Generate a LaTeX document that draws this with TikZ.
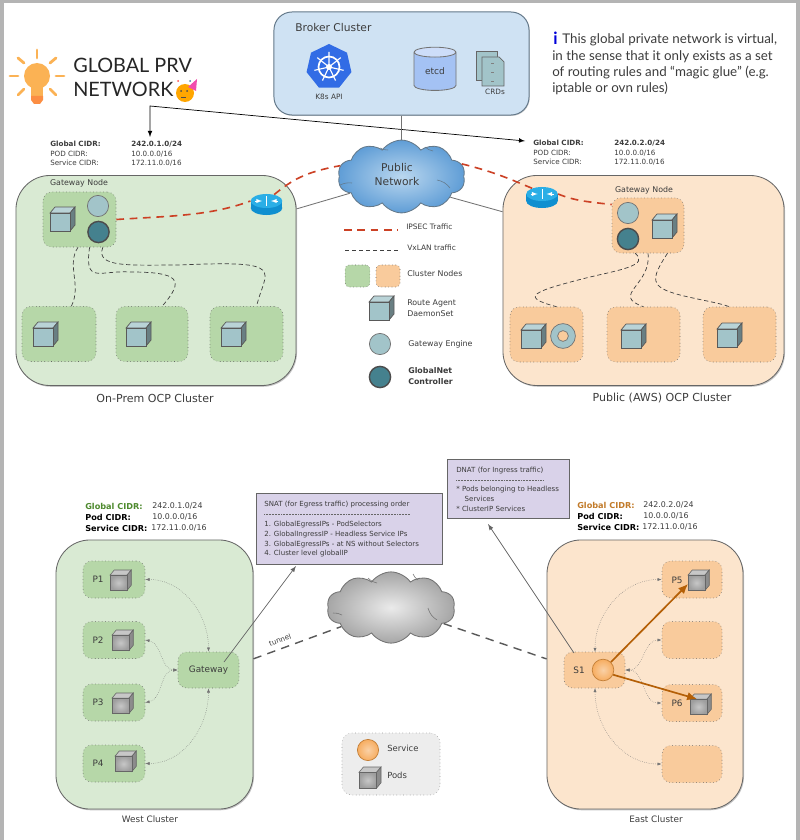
\documentclass[tikz,border=0pt]{standalone}
\usepackage{fontspec}
\setmainfont{DejaVu Sans}
\newfontfamily\titlefont{Lato}
\usetikzlibrary{shapes.geometric,shapes.symbols,shadows,arrows.meta}

\definecolor{framegray}{HTML}{B4B4B4}
\definecolor{inktext}{HTML}{3C3C3C}
\definecolor{brokerblue}{HTML}{CFE2F3}
\definecolor{edgeblue}{HTML}{64798A}
\definecolor{k8sblue}{HTML}{326CE5}
\definecolor{etcdblue}{HTML}{A4C2F4}
\definecolor{clustergreen}{HTML}{D9EAD3}
\definecolor{nodegreen}{HTML}{B6D7A8}
\definecolor{clusterorange}{HTML}{FCE5CD}
\definecolor{nodeorange}{HTML}{F9CB9C}
\definecolor{enginecol}{HTML}{A2C4C9}
\definecolor{controlcol}{HTML}{45818E}
\definecolor{ipsecred}{HTML}{CC4125}
\definecolor{notepurple}{HTML}{D9D2E9}
\definecolor{svcorange}{HTML}{F6B26B}
\definecolor{pathorange}{HTML}{B45F06}
\definecolor{routertop}{HTML}{2AAEE6}
\definecolor{routerside}{HTML}{0F8FD0}
\definecolor{bulbcol}{HTML}{FBB254}
\definecolor{cloudinner}{HTML}{BAD7EF}
\definecolor{cloudouter}{HTML}{5F9DD6}
\definecolor{westgreen}{HTML}{4E8A2E}
\definecolor{eastorange}{HTML}{C27B2A}

\newcommand{\labelfont}{\fontsize{5.6}{7.4}\selectfont}
\newcommand{\trafficfont}{\fontsize{5.3}{7}\selectfont}
\newcommand{\podfont}{\fontsize{6.3}{8}\selectfont}
\newcommand{\cidrfont}{\fontsize{5.1}{6.6}\selectfont}
\newcommand{\boldcidrfont}{\fontsize{5.8}{7}\selectfont\bfseries}
\newcommand{\notefont}{\fontsize{5}{6.9}\selectfont}
\newcommand{\capfont}{\fontsize{7.85}{9}\selectfont}
\newcommand{\infofont}{\titlefont\fontsize{9.5}{11.6}\selectfont}

\tikzset{
	every node/.style={inner sep=0pt, text=inktext},
	lbl/.style={font=\labelfont, anchor=west, align=left},
	cidr/.style={font=\cidrfont, anchor=west, align=left},
	boldcidr/.style={font=\boldcidrfont, anchor=west},
	notetext/.style={font=\notefont, anchor=west, align=left},
	captext/.style={font=\capfont},
	clusterbox/.style={draw=black!60, line width=0.6pt, rounded corners=8.5mm, drop shadow={shadow xshift=0.7pt, shadow yshift=-0.9pt, opacity=0.45}},
	dotbox/.style={draw=black!60, dotted, rounded corners=2.2mm},
	greennode/.style={dotbox, fill=nodegreen},
	orangenode/.style={dotbox, fill=nodeorange},
	engine/.style={circle, draw=black!55, line width=0.5pt, fill=enginecol, minimum size=0.53cm},
	controller/.style={circle, draw=black!70, line width=1pt, fill=controlcol, minimum size=0.53cm},
	routerhead/.style={ellipse, fill=routertop, minimum width=0.79cm, minimum height=0.35cm},
	routerbody/.style={fill=routerside},
	ipsec/.style={draw=ipsecred, line width=1.15pt, dashed, dash pattern=on 5.5pt off 4pt},
	vxlan/.style={draw=black!75, line width=0.5pt, densely dashed},
	wanline/.style={draw=black!55, line width=0.6pt},
	notebox/.style={draw=black!60, fill=notepurple, line width=0.6pt, drop shadow={shadow xshift=0.4pt, shadow yshift=-0.4pt, opacity=0.4}},
	notediv/.style={draw=black!60, line width=0.3pt, dash pattern=on 0.7pt off 0.4pt},
	peerline/.style={{Latex[length=3pt,width=2.2pt]}-{Latex[length=3pt,width=2.2pt]}, draw=black!55, line width=0.35pt, densely dotted},
	svcpath/.style={-{Latex[length=7pt,width=6pt]}, draw=pathorange, line width=1.2pt},
	tunnelline/.style={draw=black!65, line width=1pt, dashed, dash pattern=on 6pt off 4.5pt},
	agentcube/.pic={
		\draw[draw=black!65, line width=0.5pt, fill=enginecol!75!white] (0,6) -- (5,0) -- (25,0) -- (20,6) -- cycle;
		\draw[draw=black!65, line width=0.5pt, fill=enginecol!65!black] (20,6) -- (25,0) -- (25,18) -- (20,24) -- cycle;
		\draw[draw=black!65, line width=0.5pt, fill=enginecol] (0,6) rectangle (20,24);
	},
	podcube/.pic={
		\draw[draw=black!60, line width=0.4pt, fill=black!22] (0,6) -- (5,0) -- (25,0) -- (20,6) -- cycle;
		\draw[draw=black!60, line width=0.4pt, fill=black!45] (20,6) -- (25,0) -- (25,18) -- (20,24) -- cycle;
		\draw[draw=black!60, line width=0.4pt, inner color=black!22, outer color=black!38, shade] (0,6) rectangle (20,24);
	},
}

\begin{document}
\begin{tikzpicture}[x=0.025cm, y=-0.025cm, >=latex]
	\useasboundingbox (0,0) rectangle (800,840);
	\fill[framegray] (0,0) rectangle (800,840);
	\fill[white] (4,3) rectangle (796,840);

	%% title
	\fill[bulbcol] (37,76) circle (13);
	\fill[bulbcol] (31,82) rectangle (43,96);
	\fill[bulbcol!80!red] (31,96) -- (43,96) -- (43,100) -- (40,104) -- (34,104) -- (31,100) -- cycle;
	\draw[bulbcol, line width=2pt, line cap=round] (37,50) -- (37,58);
	\draw[bulbcol, line width=2pt, line cap=round] (18,58) -- (24,63);
	\draw[bulbcol, line width=2pt, line cap=round] (56,58) -- (50,63);
	\draw[bulbcol, line width=2pt, line cap=round] (10,76) -- (18,76);
	\draw[bulbcol, line width=2pt, line cap=round] (56,76) -- (64,76);
	\draw[bulbcol, line width=2pt, line cap=round] (18,95) -- (24,89);
	\draw[bulbcol, line width=2pt, line cap=round] (56,95) -- (50,89);
	\node (titleone) [anchor=west, font=\titlefont\fontsize{14.1}{18}\selectfont, text=black!85] at (73,65) {GLOBAL PRV};
	\node (titletwo) [anchor=west, font=\titlefont\fontsize{14.1}{18}\selectfont, text=black!85] at (73,89) {NETWORK};
	\fill[orange!70!yellow] (185,93) circle (9);
	\fill[magenta!70] (188,87) -- (197,79) -- (196,91) -- cycle;
	\fill[cyan!60!black] (190,81) circle (1);
	\fill[red!70] (178,81) circle (1);
	\fill[black!70] (181,91) circle (1);
	\fill[black!70] (187,91) circle (1);
	\draw[black!70, line width=0.5pt] (181,97) -- (186,97);

	%% broker
	\node (broker) [draw=edgeblue, fill=brokerblue, line width=0.7pt, rounded corners=4.5mm, minimum width=6.375cm, minimum height=2.575cm, drop shadow={shadow xshift=0.5pt, shadow yshift=-0.6pt, opacity=0.4}] at (401.5,63.5) {};
	\node (brokertext) [anchor=west, font=\fontsize{7.6}{9}\selectfont] at (295,28) {Broker Cluster};
	\node (k8s) [regular polygon, regular polygon sides=7, fill=k8sblue, minimum size=1.15cm] at (329,67) {};
	\draw[white, line width=1.2pt] (k8s.center) circle (10.5);
	\draw[white, line width=0.8pt] (k8s.center) -- ++(-90:15) (k8s.center) -- ++(-38.6:15) (k8s.center) -- ++(12.9:15) (k8s.center) -- ++(64.3:15) (k8s.center) -- ++(115.7:15) (k8s.center) -- ++(167.1:15) (k8s.center) -- ++(218.6:15);
	\fill[white] (k8s.center) circle (3);
	\node (k8stext) [font=\fontsize{5.2}{6}\selectfont] at (329,97) {K8s API};
	\node (etcd) [cylinder, shape border rotate=90, aspect=0.5, draw=black!55, line width=0.6pt, cylinder uses custom fill, cylinder body fill=etcdblue, cylinder end fill=etcdblue!55!white, minimum width=1.05cm, minimum height=1.08cm, font=\fontsize{6.4}{8}\selectfont] at (435,71.5) {etcd};
	\draw[black!60, line width=0.5pt, fill=enginecol] (476,51) rectangle (497,80);
	\draw[black!60, line width=0.5pt, fill=enginecol] (482,57) -- (499,57) -- (504,62) -- (504,86) -- (482,86) -- cycle;
	\fill[black!50] (491,63) rectangle (494,63.6);
	\fill[black!50] (491,72) rectangle (494,72.6);
	\fill[black!50] (491,81) rectangle (494,81.6);
	\node (crdtext) [font=\fontsize{5.2}{6}\selectfont] at (495,92) {CRDs};

	%% note
	\node (infoi) [anchor=west, font=\titlefont\bfseries\fontsize{12}{14}\selectfont, text=blue!85!black] at (553,38) {i};
	\node (infoone) [anchor=west, font=\infofont] at (562,40) {This global private network is virtual,};
	\node (infotwo) [anchor=north west, align=left, font=\infofont] at (552,50) {in the sense that it only exists as a set\\of routing rules and “magic glue” (e.g.\\iptable or ovn rules)};

	%% top CIDR
	\node (wtopa) [cidr, font=\cidrfont\bfseries] at (50,144) {Global CIDR:};
	\node (wtopb) [cidr, font=\cidrfont\bfseries] at (131,144) {242.0.1.0/24};
	\node (wtopc) [cidr] at (50,154) {POD CIDR:};
	\node (wtopd) [cidr] at (131,154) {10.0.0.0/16};
	\node (wtope) [cidr] at (50,163) {Service CIDR:};
	\node (wtopf) [cidr] at (131,163) {172.11.0.0/16};
	\node (etopa) [cidr, font=\cidrfont\bfseries] at (533,143) {Global CIDR:};
	\node (etopb) [cidr, font=\cidrfont\bfseries] at (614,143) {242.0.2.0/24};
	\node (etopc) [cidr] at (533,153) {POD CIDR:};
	\node (etopd) [cidr] at (614,153) {10.0.0.0/16};
	\node (etope) [cidr] at (533,162) {Service CIDR:};
	\node (etopf) [cidr] at (614,162) {172.11.0.0/16};
	\coordinate (westtip) at (150,137);
	\coordinate (tipcorner) at (150,106);
	\coordinate (easttip) at (525,141);
	\draw[<->, line width=0.5pt] (westtip) -- (tipcorner) -- (easttip);

	%% on-prem cluster
	\node (onprem) [clusterbox, fill=clustergreen, minimum width=7cm, minimum height=5.25cm] at (156,280.5) {};
	\node (gwleft) [greennode, minimum width=1.825cm, minimum height=1.375cm] at (79.5,219.5) {};
	\node (gwlefttext) [font=\labelfont] at (79,183) {Gateway Node};
	\pic at (50,207) {agentcube};
	\node (gwleftengine) [engine] at (98,206) {};
	\node (gwleftctrl) [controller] at (98.5,232) {};
	\node (nodeone) [greennode, minimum width=1.85cm, minimum height=1.375cm] at (59,334) {};
	\node (nodetwo) [greennode, minimum width=1.8cm, minimum height=1.375cm] at (152,334) {};
	\node (nodethree) [greennode, minimum width=1.825cm, minimum height=1.375cm] at (246.5,334) {};
	\pic at (33,322) {agentcube};
	\pic at (126,322) {agentcube};
	\pic at (221,322) {agentcube};
	\fill[routerbody] (266.5,208) ellipse (15.8 and 7);
	\fill[routerbody] (250.7,201) rectangle (282.3,208);
	\node (routerleft) [routerhead] at (266.5,201) {};
	\draw[->, white, line width=0.4pt] (255,201) -- (262,201);
	\draw[->, white, line width=0.4pt] (278,201) -- (271,201);
	\draw[white, line width=0.4pt] (266.5,196) -- (266.5,206);
	\node (capleft) [captext] at (155,398) {On-Prem OCP Cluster};

	%% public cluster
	\node (public) [clusterbox, fill=clusterorange, minimum width=7.025cm, minimum height=5.25cm] at (643.5,280.5) {};
	\node (gwright) [orangenode, minimum width=1.8cm, minimum height=1.375cm] at (648,225.5) {};
	\node (gwrighttext) [font=\labelfont] at (644,190) {Gateway Node};
	\pic at (652,214) {agentcube};
	\node (gwrightengine) [engine] at (628,213) {};
	\node (gwrightctrl) [controller] at (628,239) {};
	\node (nodefour) [orangenode, minimum width=1.825cm, minimum height=1.375cm] at (546.5,334.5) {};
	\node (nodefive) [orangenode, minimum width=1.825cm, minimum height=1.375cm] at (643.5,334.5) {};
	\node (nodesix) [orangenode, minimum width=1.825cm, minimum height=1.375cm] at (739.5,334.5) {};
	\pic at (521,324) {agentcube};
	\pic at (621,324) {agentcube};
	\pic at (717,323) {agentcube};
	\node (ring) [circle, draw=black!55, line width=0.5pt, fill=enginecol, minimum size=0.62cm] at (563,336) {};
	\node (ringhole) [circle, draw=black!55, line width=0.5pt, fill=nodeorange, minimum size=0.27cm] at (563,336) {};
	\fill[routerbody] (542,201) ellipse (15.8 and 7);
	\fill[routerbody] (526.2,194) rectangle (557.8,201);
	\node (routerright) [routerhead] at (542,194) {};
	\draw[->, white, line width=0.4pt] (530.5,194) -- (537.5,194);
	\draw[->, white, line width=0.4pt] (553.5,194) -- (546.5,194);
	\draw[white, line width=0.4pt] (542,189) -- (542,199);
	\node (capright) [captext] at (662,398) {Public (AWS) OCP Cluster};

	%% public network
	\node (pubcloud) [cloud, cloud puffs=10, cloud puff arc=110, cloud ignores aspect, draw=edgeblue, line width=0.6pt, inner color=cloudinner, outer color=cloudouter, shade, minimum width=3.18cm, minimum height=1.82cm] at (401.5,176.5) {};
	\draw[edgeblue, line width=0.4pt] (340,185) to[bend left=15] (352,183);
	\draw[edgeblue, line width=0.4pt] (380,148) to[bend right=15] (388,150);
	\draw[edgeblue, line width=0.4pt] (425,147) to[bend right=15] (433,151);
	\draw[edgeblue, line width=0.4pt] (437,180) to[bend left=20] (450,188);
	\node (pubtext) [align=center, font=\fontsize{7.6}{10.6}\selectfont] at (397,174.5) {Public\\Network};
	\draw[wanline] (broker.south) -- (pubcloud.north);
	\draw[wanline] (onprem.27) -- (pubcloud.198);
	\draw[wanline] (public.154) -- (pubcloud.-23);

	%% IPSEC
	\draw[ipsec] (gwleft.east) .. controls (170,216) and (210,216) .. (routerleft.west);
	\draw[ipsec] (routerleft.40) .. controls (292,180) and (305,172) .. (pubcloud.170);
	\draw[ipsec] (routerright.east) .. controls (575,201) and (590,202) .. (gwright.150);
	\draw[ipsec] (routerright.150) .. controls (512,180) and (495,172) .. (pubcloud.12);

	%% VxLAN
	\draw[vxlan] (gwleft.-93) .. controls (66,265) and (82,285) .. (nodeone.66);
	\draw[vxlan] (gwleft.-70) .. controls (84,285) and (100,270) .. (130,272) .. controls (180,272) and (185,280) .. (nodetwo.70);
	\draw[vxlan] (gwleft.-50) .. controls (95,268) and (130,265) .. (180,265) .. controls (290,260) and (265,270) .. (nodethree.70);
	\draw[vxlan] (gwright.-115) .. controls (650,265) and (620,270) .. (590,277) .. controls (530,292) and (520,297) .. (nodefour.70);
	\draw[vxlan] (gwright.-90) .. controls (652,285) and (610,295) .. (nodefive.90);
	\draw[vxlan] (gwright.-55) .. controls (650,280) and (650,287) .. (680,295) .. controls (700,300) and (720,303) .. (nodesix.110);

	%% legend
	\coordinate (legenda) at (344,230);
	\coordinate (legendb) at (398,230);
	\coordinate (legendc) at (345,250);
	\coordinate (legendd) at (400,250);
	\draw[ipsec] (legenda) -- (legendb);
	\draw[vxlan] (legendc) -- (legendd);
	\node (ipsectext) [lbl, font=\trafficfont] at (406,227) {IPSEC Traffic};
	\node (vxlantext) [lbl, font=\trafficfont] at (407,248) {VxLAN traffic};
	\node (legendgreen) [greennode, rounded corners=1mm, minimum width=0.62cm, minimum height=0.55cm] at (357.5,276) {};
	\node (legendorange) [orangenode, rounded corners=1mm, minimum width=0.6cm, minimum height=0.55cm] at (388,276) {};
	\node (nodestext) [lbl] at (407,274) {Cluster Nodes};
	\pic at (369,296) {agentcube};
	\node (agenttext) [lbl] at (407,308) {Route Agent\\DaemonSet};
	\node (engineicon) [engine] at (380,344) {};
	\node (enginetext) [lbl] at (408,344) {Gateway Engine};
	\node (ctrlicon) [controller] at (380,377) {};
	\node (ctrltext) [lbl, font=\labelfont\bfseries] at (408,376) {GlobalNet\\Controller};

	%% west cluster
	\node (westcidra) [boldcidr, text=westgreen] at (85,506) {Global CIDR:};
	\node (westcidrb) [boldcidr, font=\fontsize{5.6}{7}\selectfont] at (152,506) {242.0.1.0/24};
	\node (westcidrc) [boldcidr, text=black] at (85,517) {Pod CIDR:};
	\node (westcidrd) [boldcidr, font=\fontsize{5.6}{7}\selectfont] at (152,517) {10.0.0.0/16};
	\node (westcidre) [boldcidr, text=black] at (85,528) {Service CIDR:};
	\node (westcidrf) [boldcidr, font=\fontsize{5.6}{7}\selectfont] at (151,528) {172.11.0.0/16};
	\node (west) [clusterbox, fill=clustergreen, minimum width=4.925cm, minimum height=6.725cm] at (154.5,674.5) {};
	\node (pone) [greennode, minimum width=1.55cm, minimum height=0.925cm] at (114,579.5) {};
	\node (ptwo) [greennode, minimum width=1.55cm, minimum height=0.925cm] at (114,640) {};
	\node (pthree) [greennode, minimum width=1.55cm, minimum height=0.925cm] at (114,702.5) {};
	\node (pfour) [greennode, minimum width=1.55cm, minimum height=0.925cm] at (114,763.5) {};
	\node (ponetext) [font=\podfont] at (98,579.5) {P1};
	\node (ptwotext) [font=\podfont] at (98,640) {P2};
	\node (pthreetext) [font=\podfont] at (98,702.5) {P3};
	\node (pfourtext) [font=\podfont] at (98,763.5) {P4};
	\pic[scale=0.85] at (110,570) {podcube};
	\pic[scale=0.85] at (112,630) {podcube};
	\pic[scale=0.85] at (112,693) {podcube};
	\pic[scale=0.85] at (115,751) {podcube};
	\node (gateway) [greennode, minimum width=1.525cm, minimum height=0.9cm, font=\podfont] at (208.5,670) {Gateway};
	\draw[peerline] (pone.east) to[out=0, in=90] (gateway.north);
	\draw[peerline] (ptwo.east) to[out=-10, in=180] (gateway.west);
	\draw[peerline] (pthree.east) to[out=10, in=180] (gateway.west);
	\draw[peerline] (pfour.east) to[out=0, in=-90] (gateway.south);
	\node (capwest) [font=\podfont] at (150,819) {West Cluster};

	%% east cluster
	\node (eastcidra) [boldcidr, text=eastorange] at (577,505) {Global CIDR:};
	\node (eastcidrb) [boldcidr, font=\fontsize{5.6}{7}\selectfont] at (643,505) {242.0.2.0/24};
	\node (eastcidrc) [boldcidr, text=black] at (577,516) {Pod CIDR:};
	\node (eastcidrd) [boldcidr, font=\fontsize{5.6}{7}\selectfont] at (643,516) {10.0.0.0/16};
	\node (eastcidre) [boldcidr, text=black] at (577,527) {Service CIDR:};
	\node (eastcidrf) [boldcidr, font=\fontsize{5.6}{7}\selectfont] at (642,527) {172.11.0.0/16};
	\node (east) [clusterbox, fill=clusterorange, minimum width=4.9cm, minimum height=6.725cm] at (645,674.5) {};
	\node (pfive) [orangenode, minimum width=1.5cm, minimum height=0.925cm] at (692,579.5) {};
	\node (pblanka) [orangenode, minimum width=1.5cm, minimum height=0.925cm] at (692,640) {};
	\node (psix) [orangenode, minimum width=1.5cm, minimum height=0.925cm] at (692,703) {};
	\node (pblankb) [orangenode, minimum width=1.5cm, minimum height=0.925cm] at (692,764) {};
	\node (pfivetext) [font=\podfont] at (677,580) {P5};
	\node (psixtext) [font=\podfont] at (677,703) {P6};
	\pic[scale=0.85] at (688,570) {podcube};
	\pic[scale=0.85] at (690,694) {podcube};
	\node (sone) [orangenode, minimum width=1.525cm, minimum height=0.9cm] at (594.5,670) {};
	\node (sonetext) [font=\podfont] at (579,670) {S1};
	\node (service) [circle, draw=pathorange!80!white, line width=0.5pt, inner color=svcorange!60!white, outer color=svcorange!90!orange, shade, minimum size=0.54cm] at (603,670) {};
	\coordinate (sonetop) at (595,652);
	\coordinate (sonebottom) at (595,688);
	\draw[peerline] (pfive.west) to[out=180, in=90] (sonetop);
	\draw[peerline] (pblanka.west) to[out=180, in=0] (sone.east);
	\draw[peerline] (psix.west) to[out=180, in=0] (sone.east);
	\draw[peerline] (pblankb.west) to[out=180, in=-90] (sonebottom);
	\coordinate (pfivetip) at (688,584);
	\coordinate (psixtip) at (697,699);
	\draw[svcpath] (service.45) -- (pfivetip);
	\draw[svcpath] (service.-25) -- (psixtip);
	\node (capeast) [font=\podfont] at (656,819) {East Cluster};

	%% notes
	\node (snat) [notebox, minimum width=4.65cm, minimum height=1.775cm] at (349,528.5) {};
	\node (snatone) [notetext] at (264,505) {SNAT (for Egress traffic) processing order};
	\draw[notediv] (264,514) -- (410,514);
	\node (snattwo) [notetext, anchor=north west] at (264,521) {1. GlobalEgressIPs - PodSelectors\\2. GlobalIngressIP - Headless Service IPs\\3. GlobalEgressIPs - at NS without Selectors\\4. Cluster level globalIP};
	\node (dnat) [notebox, minimum width=3.05cm, minimum height=1.475cm] at (508,488.5) {};
	\node (dnatone) [notetext] at (456,470.5) {DNAT (for Ingress traffic)};
	\draw[notediv] (456,480) -- (543,480);
	\node (dnattwo) [notetext, anchor=north west] at (456,486) {* Pods belonging to Headless\\\hspace*{6pt}Services\\* ClusterIP Services};
	\coordinate (gatewaytail) at (224,662);
	\coordinate (snattip) at (296,566);
	\coordinate (sonetail) at (574,653);
	\coordinate (dnattip) at (488,524);
	\draw[->, draw=black!60, line width=0.5pt] (gatewaytail) -- (snattip);
	\draw[->, draw=black!60, line width=0.5pt] (sonetail) -- (dnattip);

	%% tunnel
	\node (grancloud) [cloud, cloud puffs=10, cloud puff arc=110, cloud ignores aspect, draw=black!55, line width=0.6pt, inner color=black!8, outer color=black!35, shade, minimum width=3.2cm, minimum height=1.78cm] at (391,607.5) {};
	\draw[black!55, line width=0.4pt] (333,613) to[bend left=15] (342,615);
	\draw[black!55, line width=0.4pt] (368,578) to[bend right=15] (377,583);
	\draw[black!55, line width=0.4pt] (413,574) to[bend right=15] (418,580);
	\draw[black!55, line width=0.4pt] (428,608) to[bend right=20] (437,620);
	\draw[tunnelline] (west.9.5) -- (grancloud.201);
	\draw[tunnelline] (grancloud.-17) -- (east.171.5);
	\node (tunneltext) [font=\cidrfont, rotate=20] at (280,640) {tunnel};

	%% pods legend
	\node (podlegend) [dotbox, fill=black!7, draw=black!40, rounded corners=2.5mm, minimum width=2.45cm, minimum height=1.55cm] at (391,764) {};
	\node (svcicon) [circle, draw=pathorange!80!white, line width=0.5pt, inner color=svcorange!60!white, outer color=svcorange!90!orange, shade, minimum size=0.53cm] at (368,750) {};
	\pic[scale=0.88] at (359,767) {podcube};
	\node (svctext) [lbl, font=\fontsize{6}{7.4}\selectfont] at (387,748) {Service};
	\node (podstext) [lbl, font=\fontsize{6}{7.4}\selectfont] at (387,775) {Pods};
\end{tikzpicture}
\end{document}
